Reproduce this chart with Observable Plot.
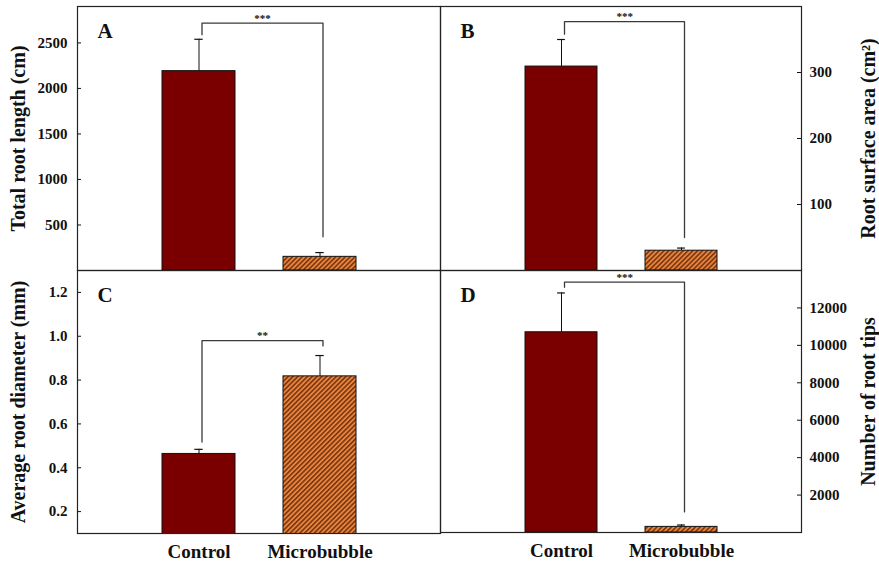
<!DOCTYPE html>
<html><head><meta charset="utf-8">
<script src="https://cdn.jsdelivr.net/npm/d3@7"></script>
<script src="https://cdn.jsdelivr.net/npm/@observablehq/plot@0.6"></script>
<style>
body{margin:0;background:#fff;}
#chart{position:relative;width:879px;height:563px;background:#fff;overflow:hidden;}
#chart svg{position:absolute;left:0;top:0;}
</style></head><body><div id="chart"></div>
<script>
// ---- data ----
const groups = ["Control", "Microbubble"];
const lengthMean = [2190, 150];
const lengthErr = [350, 47];
const areaMean = [309, 30];
const areaErr = [41, 4];
const diamMean = [0.463, 0.817];
const diamErr = [0.021, 0.095];
const tipsMean = [10700, 300];
const tipsErr = [2100, 100];
// significance brackets: [left leg bottom, top, right leg bottom]
const lengthBracket = [2590, 2717, 370];
const areaBracket = [358, 377, 50];
const diamBracket = [0.517, 0.98, 0.956];
const tipsBracket = [13100, 13380, 1100];
const stars = ["***", "***", "**", "***"];
const letters = ["A", "B", "C", "D"];
const titles = ["Total root length (cm)", "Root surface area (cm\u00B2)", "Average root diameter (mm)", "Number of root tips"];
const lengthTicks = [500, 1000, 1500, 2000, 2500];
const areaTicks = [100, 200, 300];
const diamTicks = [0.2, 0.4, 0.6, 0.8, 1.0, 1.2];
const tipsTicks = [2000, 4000, 6000, 8000, 10000, 12000];
const domains = [[0, 2900], [0, 400], [0.1, 1.3], [0, 14000]];

// ---- layout ----
const W = 879, H = 563;
const FONT = "Liberation Serif, Times New Roman, serif";
const INK = "#111";

function panel(cfg) {
  const {mean, err, ticks, domain, bracket, star, letter, title, side, box, xLabels, fmt, id} = cfg;
  const fw = box.right - box.left;
  const rows = groups.map((g, i) => ({group: g, mean: mean[i], err: err[i], top: mean[i] + err[i]}));
  const br = [
    {group: groups[0], v: bracket[0]},
    {group: groups[0], v: bracket[1]},
    {group: groups[1], v: bracket[1]},
    {group: groups[1], v: bracket[2]}
  ];
  const capInset = fw * 0.6 / 3 / 2 - 4;
  const defs = () => {
    const g = d3.create("svg:defs");
    const p = g.append("pattern").attr("id", id).attr("patternUnits", "userSpaceOnUse")
      .attr("width", 3.4).attr("height", 3.4).attr("patternTransform", "rotate(45)");
    p.append("rect").attr("width", 3.4).attr("height", 3.4).attr("fill", "#e8853c");
    p.append("rect").attr("width", 1.5).attr("height", 3.4).attr("fill", "#74300e");
    return g.node();
  };
  const marks = [
    defs,
    Plot.barY(rows.filter(d => d.group === groups[0]), {x: "group", y: "mean", fill: "#7a0000", stroke: INK, strokeWidth: 1, clip: true}),
    Plot.barY(rows.filter(d => d.group === groups[1]), {x: "group", y: "mean", fill: `url(#${id})`, stroke: INK, strokeWidth: 1, clip: true}),
    Plot.ruleX(rows, {x: "group", y1: "mean", y2: "top", stroke: INK, strokeWidth: 1}),
    Plot.tickY(rows, {x: "group", y: "top", insetLeft: capInset, insetRight: capInset, stroke: INK, strokeWidth: 1.2}),
    Plot.line(br, {x: "group", y: "v", stroke: "#3a3a3a", strokeWidth: 1.3, dx: 3}),
    Plot.text([star], {x: () => groups[0], y: () => bracket[1], text: d => d, dx: 3 + fw / 6, dy: -5, fontSize: 11, fill: INK}),
    Plot.text([letter], {frameAnchor: "top-left", dx: 20, dy: 31, lineAnchor: "bottom", fontSize: 21, fontWeight: "bold", fill: INK}),
    Plot.text([title], {frameAnchor: side, textAnchor: "middle", lineAnchor: "middle", rotate: -90, dx: side === "left" ? -59 : 67, fontSize: 20, fontWeight: "bold", fill: INK}),
    Plot.axisY({ticks, anchor: side, tickSize: 0, tickPadding: side === "left" ? 10 : 8, fontSize: 15, fontWeight: "bold", tickFormat: fmt, label: null, fill: INK}),
    Plot.tickY(ticks, {y: d => d, insetLeft: side === "left" ? 0 : fw - 4, insetRight: side === "left" ? fw - 4 : 0, stroke: INK}),
    Plot.frame({stroke: "#222", strokeWidth: 1.2})
  ];
  if (xLabels) marks.push(Plot.axisX({anchor: "bottom", tickSize: 0, tickPadding: 11, fontSize: 19, fontWeight: "bold", label: null, fill: INK}));
  return Plot.plot({
    width: W, height: H,
    marginLeft: box.left, marginRight: W - box.right, marginTop: box.top, marginBottom: H - box.bottom,
    style: {background: "transparent", overflow: "visible", fontFamily: FONT, fontWeight: "bold", color: INK},
    x: {type: "band", domain: groups, paddingInner: 0.4, paddingOuter: 0.7, axis: xLabels ? undefined : null, label: null},
    y: {domain, label: null},
    marks
  });
}

const chart = document.getElementById("chart");
const fmt0 = d3.format("d");
chart.append(panel({mean: lengthMean, err: lengthErr, ticks: lengthTicks, domain: domains[0], bracket: lengthBracket, star: stars[0], letter: letters[0], title: titles[0], side: "left", box: {left: 77, top: 6, right: 440, bottom: 270}, xLabels: false, fmt: fmt0, id: "hatchA"}));
chart.append(panel({mean: areaMean, err: areaErr, ticks: areaTicks, domain: domains[1], bracket: areaBracket, star: stars[1], letter: letters[1], title: titles[1], side: "right", box: {left: 440, top: 6, right: 801, bottom: 270}, xLabels: false, fmt: fmt0, id: "hatchB"}));
chart.append(panel({mean: diamMean, err: diamErr, ticks: diamTicks, domain: domains[2], bracket: diamBracket, star: stars[2], letter: letters[2], title: titles[2], side: "left", box: {left: 77, top: 270, right: 440, bottom: 533}, xLabels: true, fmt: d3.format(".1f"), id: "hatchC"}));
chart.append(panel({mean: tipsMean, err: tipsErr, ticks: tipsTicks, domain: domains[3], bracket: tipsBracket, star: stars[3], letter: letters[3], title: titles[3], side: "right", box: {left: 440, top: 270, right: 801, bottom: 532}, xLabels: true, fmt: fmt0, id: "hatchD"}));
</script></body></html>
